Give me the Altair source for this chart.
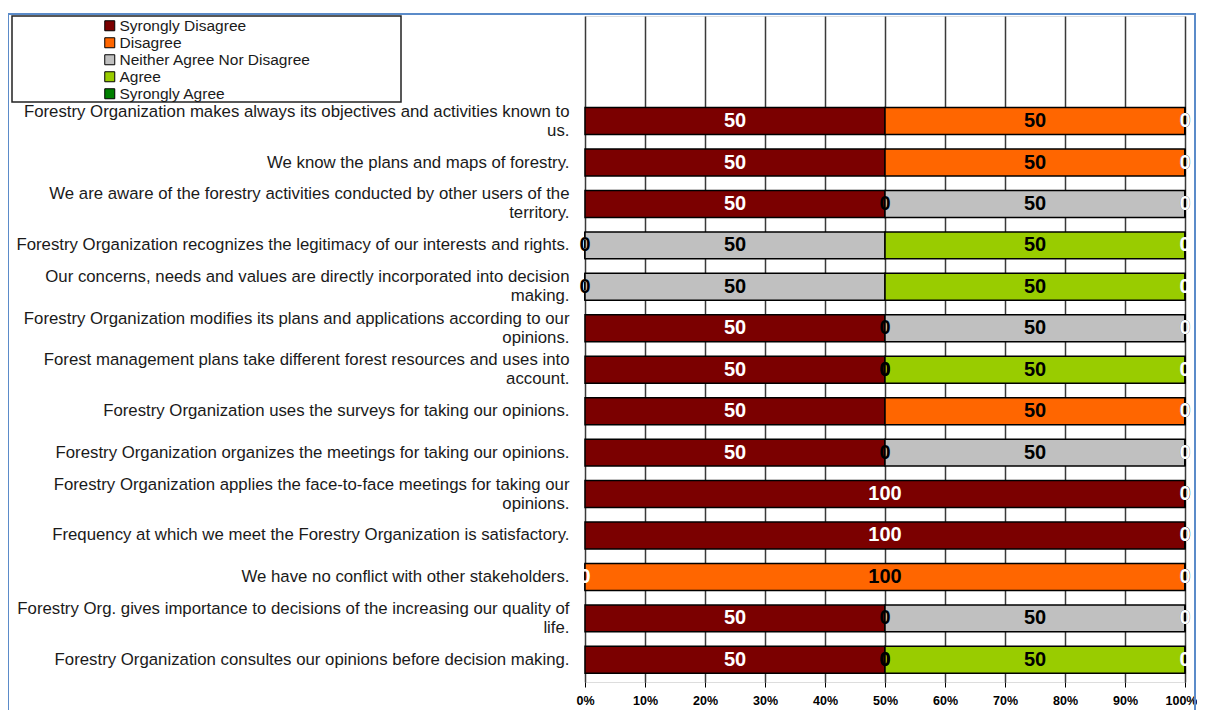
import altair as alt
import pandas as pd

categories = ["Syrongly Disagree", "Disagree", "Neither Agree Nor Disagree", "Agree", "Syrongly Agree"]
colors = ["#7B0000", "#FF6600", "#C0C0C0", "#99CC00", "#008000"]
text_colors = ["white", "black", "black", "black", "white"]

questions = [
    "Forestry Organization makes always its objectives and activities known to|us.",
    "We know the plans and maps of forestry.",
    "We are aware of the forestry activities conducted by other users of the|territory.",
    "Forestry Organization recognizes the legitimacy of our interests and rights.",
    "Our concerns, needs and values are directly incorporated into decision|making.",
    "Forestry Organization modifies its plans and applications according to our|opinions.",
    "Forest management plans take different forest resources and uses into|account.",
    "Forestry Organization uses the surveys for taking our opinions.",
    "Forestry Organization organizes the meetings for taking our opinions.",
    "Forestry Organization applies the face-to-face meetings for taking our|opinions.",
    "Frequency at which we meet the Forestry Organization is satisfactory.",
    "We have no conflict with other stakeholders.",
    "Forestry Org. gives importance to decisions of the increasing our quality of|life.",
    "Forestry Organization consultes our opinions before decision making.",
]

strongly_disagree = [50, 50, 50, 0, 0, 50, 50, 50, 50, 100, 100, 0, 50, 50]
disagree = [50, 50, 0, 0, 0, 0, 0, 50, 0, 0, 0, 100, 0, 0]
neither = [0, 0, 50, 50, 50, 50, 0, 0, 50, 0, 0, 0, 50, 0]
agree = [0, 0, 0, 50, 50, 0, 50, 0, 0, 0, 0, 0, 0, 50]
strongly_agree = [0] * 14

x_ticks = [0, 10, 20, 30, 40, 50, 60, 70, 80, 90, 100]
blank_rows = ["_e1", "_e2"]

series = [strongly_disagree, disagree, neither, agree, strongly_agree]
rows = []
for qi, q in enumerate(questions):
    for ci, cat in enumerate(categories):
        rows.append({
            "question": q,
            "category": cat,
            "ord": ci,
            "value": series[ci][qi],
            "tcolor": text_colors[ci],
        })
df = pd.DataFrame(rows)

y_domain = blank_rows + questions
y_scale = alt.Scale(domain=y_domain, paddingInner=0.35, paddingOuter=0.21)
y_enc = alt.Y(
    "question:N",
    scale=y_scale,
    axis=alt.Axis(
        title=None,
        ticks=False,
        domain=False,
        labelExpr="indexof(datum.label, '_e') == 0 ? '' : split(datum.label, '|')",
        labelAlign="right",
        labelBaseline="middle",
        labelPadding=16,
        labelLimit=800,
        labelFont="Liberation Sans",
        labelFontSize=16.8,
        labelLineHeight=19,
        labelOffset={"expr": "indexof(datum.value, '|') >= 0 ? -9.5 : 0"},
        labelColor="#1a1a1a",
    ),
)

x_scale = alt.Scale(domain=[0, 100], nice=False)
x_axis = alt.Axis(
    title=None,
    values=x_ticks,
    labelExpr="datum.value + '%'",
    labelFont="Liberation Sans",
    labelFontSize=12.5,
    labelFontWeight="bold",
    labelColor="black",
    labelPadding=7,
    labelFlush=False,
    labelOffset={"expr": "datum.value == 100 ? -4 : 0"},
    tickColor="black",
    tickSize=5,
    domain=False,
    grid=True,
    gridColor="#3a3a3a",
    gridWidth=1.5,
)

bars = alt.Chart(df).mark_bar(stroke="black", strokeWidth=1.5).encode(
    x=alt.X("value:Q", stack="zero", scale=x_scale, axis=x_axis),
    y=y_enc,
    color=alt.Color(
        "category:N",
        scale=alt.Scale(domain=categories, range=colors),
        legend=alt.Legend(
            title=None,
            orient="none",
            legendX=-483,
            legendY=2,
            padding=0,
            symbolType="square",
            symbolSize=100,
            symbolStrokeColor="black",
            symbolStrokeWidth=1,
            labelFont="Liberation Sans",
            labelFontSize=15.5,
            labelLimit=400,
            labelColor="#1a1a1a",
            labelOffset=2,
            rowPadding=0,
        ),
    ),
    order=alt.Order("ord:Q"),
)

labels = alt.Chart(df).transform_stack(
    stack="value",
    groupby=["question"],
    as_=["x0", "x1"],
    sort=[alt.SortField("ord")],
).transform_calculate(
    mid="(datum.x0 + datum.x1) / 2"
).mark_text(
    font="Liberation Sans", fontSize=20, fontWeight="bold", baseline="middle", align="center"
).encode(
    x=alt.X("mid:Q", scale=x_scale, axis=x_axis),
    y=alt.Y("question:N", scale=y_scale),
    text=alt.Text("value:Q"),
    color=alt.Color("tcolor:N", scale=None),
)

one = alt.Data(values=[{"k": 1}])
frame = alt.Chart(one).mark_rect(filled=False, stroke="#5B8BC9", strokeWidth=2).encode(
    x=alt.value(-577), x2=alt.value(610), y=alt.value(-2), y2=alt.value(740)
)
legend_box = alt.Chart(one).mark_rect(filled=False, stroke="#222222", strokeWidth=1.5).encode(
    x=alt.value(-573), x2=alt.value(-184), y=alt.value(0), y2=alt.value(86)
)

chart = alt.layer(frame, legend_box, bars, labels).resolve_scale(color="independent").properties(
    width=600,
    height=666,
    autosize=alt.AutoSizeParams(type="none"),
    padding={"left": 577, "top": 8, "right": 12, "bottom": 28},
).configure_view(stroke="black", strokeWidth=1.5, fill="white").configure(background="white")

chart.save("out.html", embed_options={"renderer": "svg", "actions": False})
